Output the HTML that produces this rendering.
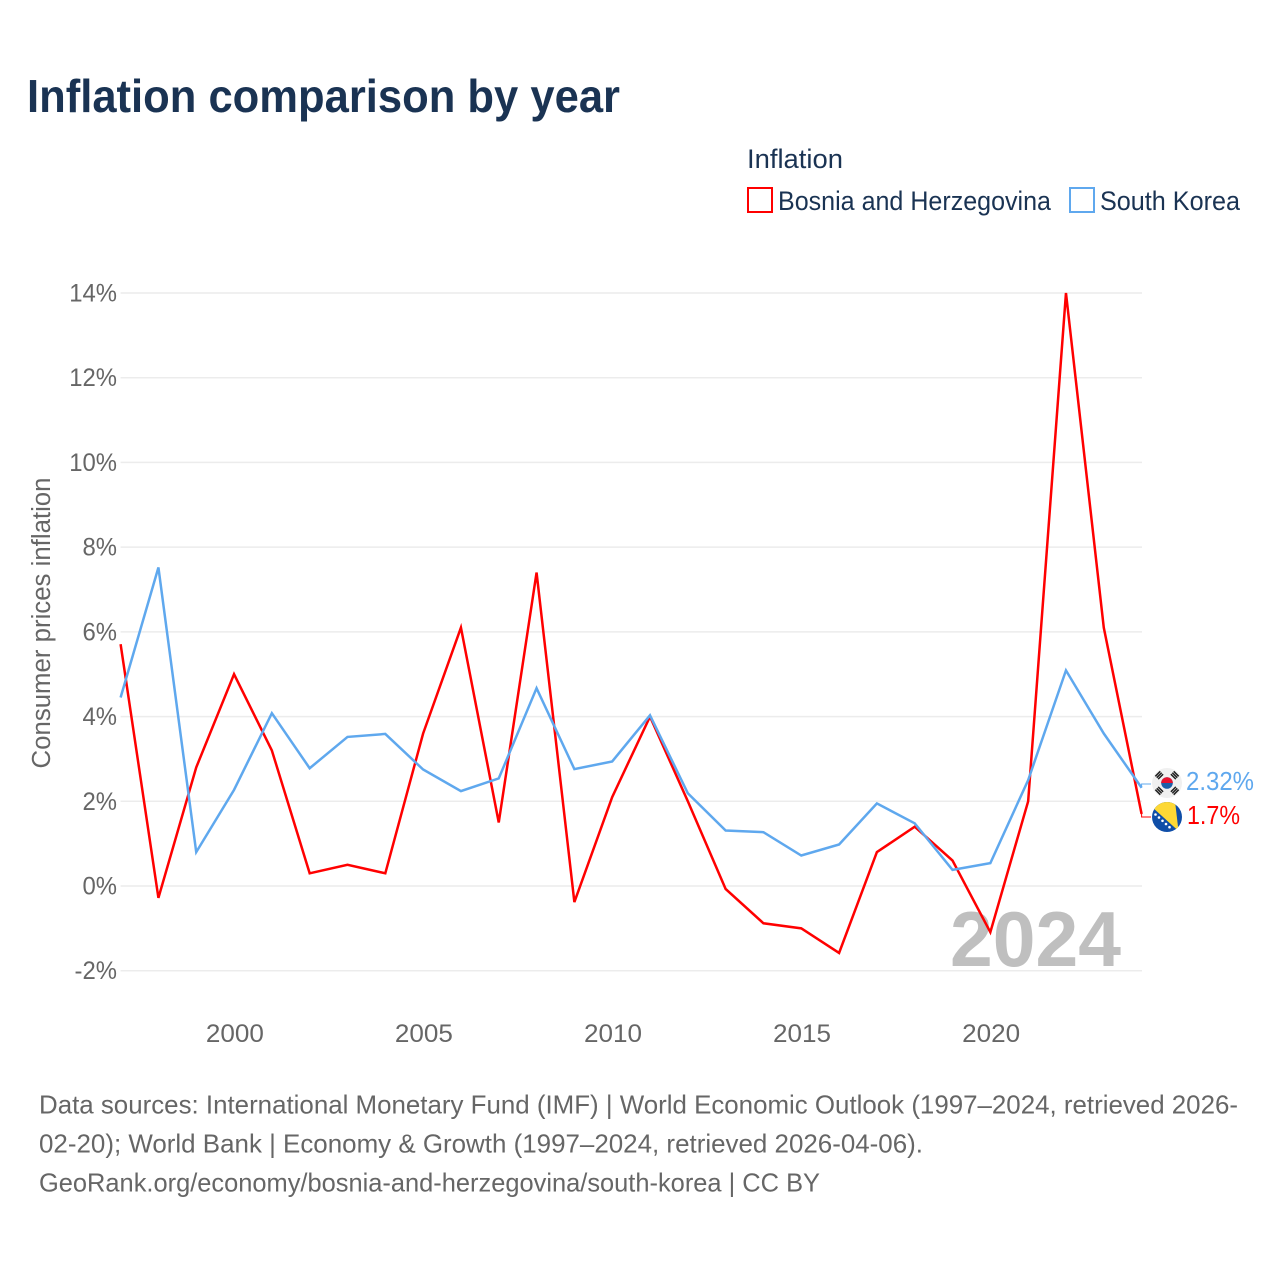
<!DOCTYPE html>
<html lang="en">
<head>
<meta charset="utf-8">
<title>Inflation comparison by year</title>
<style>
html,body{margin:0;padding:0;background:#fff;width:1280px;height:1280px;overflow:hidden}
svg{display:block}
text{font-family:"Liberation Sans",sans-serif}
</style>
</head>
<body>
<svg id="chart" xmlns="http://www.w3.org/2000/svg" width="1280" height="1280" viewBox="0 0 1280 1280">
  <defs>
    <clipPath id="flag-clip-kr"><circle cx="1167" cy="783" r="15"/></clipPath>
    <clipPath id="flag-clip-ba"><circle cx="1167" cy="817" r="15"/></clipPath>
  </defs>
  <rect width="1280" height="1280" fill="#fff"/>
  <text x="27" y="112" font-size="46" font-weight="700" fill="#1a3353" textLength="593" lengthAdjust="spacingAndGlyphs">Inflation comparison by year</text>

  <g>
    <text x="747" y="168" font-size="27" fill="#1a3353" textLength="96" lengthAdjust="spacingAndGlyphs">Inflation</text>
    <g>
      <rect x="748" y="188" width="24" height="24" fill="#fff" stroke="#ff0000" stroke-width="2"/>
      <text x="778" y="210" font-size="27" fill="#1a3353" textLength="273" lengthAdjust="spacingAndGlyphs">Bosnia and Herzegovina</text>
    </g>
    <g>
      <rect x="1070" y="188" width="24" height="24" fill="#fff" stroke="#5fa8ee" stroke-width="2"/>
      <text x="1100" y="210" font-size="27" fill="#1a3353" textLength="140" lengthAdjust="spacingAndGlyphs">South Korea</text>
    </g>
  </g>

  <g id="grid"></g>
  <g id="y-ticks"></g>
  <g id="x-ticks"></g>
  <text transform="translate(50 623) rotate(-90)" text-anchor="middle" font-size="25.500" fill="#666" textLength="291" lengthAdjust="spacingAndGlyphs">Consumer prices inflation</text>
  <text x="950" y="966" font-size="78" font-weight="700" fill="#bfbfbf" textLength="171" lengthAdjust="spacingAndGlyphs">2024</text>
  <g id="series"></g>

  <g clip-path="url(#flag-clip-kr)">
    <rect x="1152" y="768" width="30" height="30" fill="#f0f0f0"/>
    <circle cx="1167" cy="783" r="5.800" fill="#1c5fa8"/>
    <path d="M1161.200 783a5.800 5.800 0 0 1 11.600 0z" fill="#e8112d"/>
    <g stroke="#222" stroke-width="1.500" fill="none">
      <path transform="rotate(-45 1167 783)" d="M1163.500 774h7M1163.500 772h7M1163.500 770h7"/>
      <path transform="rotate(45 1167 783)" d="M1163.500 774h7M1163.500 772h7M1163.500 770h7"/>
      <path transform="rotate(135 1167 783)" d="M1163.500 774h7M1163.500 772h7M1163.500 770h7"/>
      <path transform="rotate(225 1167 783)" d="M1163.500 774h7M1163.500 772h7M1163.500 770h7"/>
    </g>
  </g>
  <g clip-path="url(#flag-clip-ba)">
    <rect x="1152" y="802" width="30" height="30" fill="#0f4ea8"/>
    <path d="M1152 807L1156 801H1175L1178.500 831z" fill="#fdd835"/>
    <g fill="#fff">
      <circle cx="1155.500" cy="814.500" r="1.300"/><circle cx="1159" cy="817.500" r="1.300"/><circle cx="1162.500" cy="820.800" r="1.300"/><circle cx="1166" cy="824" r="1.300"/><circle cx="1169.500" cy="827.200" r="1.300"/>
    </g>
  </g>
  <g id="end-labels"></g>

  <g font-size="26" fill="#666">
    <text x="39" y="1113.500" textLength="1199" lengthAdjust="spacingAndGlyphs">Data sources: International Monetary Fund (IMF) | World Economic Outlook (1997–2024, retrieved 2026-</text>
    <text x="39" y="1152.500" textLength="884" lengthAdjust="spacingAndGlyphs">02-20); World Bank | Economy &amp; Growth (1997–2024, retrieved 2026-04-06).</text>
    <text x="39" y="1191.500" textLength="781" lengthAdjust="spacingAndGlyphs">GeoRank.org/economy/bosnia-and-herzegovina/south-korea | CC BY</text>
  </g>
</svg>
<script>
const years = [1997,1998,1999,2000,2001,2002,2003,2004,2005,2006,2007,2008,2009,2010,2011,2012,2013,2014,2015,2016,2017,2018,2019,2020,2021,2022,2023,2024];
const bosniaValues = [5.71,-0.28,2.8,5.0,3.2,0.3,0.5,0.3,3.6,6.1,1.5,7.4,-0.38,2.1,4.0,2.0,-0.07,-0.88,-1.0,-1.58,0.8,1.4,0.6,-1.09,2.0,14.0,6.1,1.7];
const koreaValues = [4.45,7.52,0.8,2.27,4.08,2.78,3.52,3.59,2.75,2.24,2.54,4.67,2.76,2.94,4.03,2.19,1.31,1.27,0.72,0.98,1.95,1.48,0.38,0.54,2.5,5.09,3.6,2.32];
const yTickValues = [-2,0,2,4,6,8,10,12,14];
const yTickLabels = ['-2%','0%','2%','4%','6%','8%','10%','12%','14%'];
const xTickValues = [2000,2005,2010,2015,2020];
const xTickLabels = ['2000','2005','2010','2015','2020'];
const bosniaEndLabel = '1.7%';
const koreaEndLabel = '2.32%';

const NS = 'http://www.w3.org/2000/svg';
const plotLeft = 120.6, plotRight = 1141.6, yZero = 886, yFourteen = 293;
function xScale(year) { return plotLeft + (year - 1997) * (plotRight - plotLeft) / 27; }
function yScale(value) { return yZero - value * (yZero - yFourteen) / 14; }
function make(tag, attrs) {
  const el = document.createElementNS(NS, tag);
  for (const k in attrs) el.setAttribute(k, attrs[k]);
  return el;
}
const grid = document.getElementById('grid');
const yTicks = document.getElementById('y-ticks');
const xTicks = document.getElementById('x-ticks');
const seriesGroup = document.getElementById('series');
const endLabels = document.getElementById('end-labels');

yTickValues.forEach(function (v, i) {
  const line = make('line', {x1: plotLeft, x2: plotRight + 0.4, y1: yScale(v), y2: yScale(v), stroke: '#ececec', 'stroke-width': 1.5});
  
  
  grid.appendChild(line);
  const label = make('text', {x: 117, y: yScale(v) + 8.500, 'text-anchor': 'end', 'font-size': 25, fill: '#666'});
  
  
  label.textContent = yTickLabels[i];
  yTicks.appendChild(label);
  label.setAttribute('textLength', label.getComputedTextLength() * 0.955);
  label.setAttribute('lengthAdjust', 'spacingAndGlyphs');
});
xTickValues.forEach(function (v, i) {
  const label = make('text', {x: xScale(v) + 0.8, y: 1042, 'text-anchor': 'middle', 'font-size': 25, fill: '#666', textLength: 58, lengthAdjust: 'spacingAndGlyphs'});
  
  
  label.textContent = xTickLabels[i];
  xTicks.appendChild(label);
});
function pointsFor(values) {
  return values.map(function (v, i) { return xScale(years[i]) + ',' + yScale(v); }).join(' ');
}
const bosniaLine = make('polyline', {points: pointsFor(bosniaValues), fill: 'none', stroke: '#ff0000', 'stroke-width': 2.5, 'stroke-linejoin': 'miter'});


seriesGroup.appendChild(bosniaLine);
const koreaLine = make('polyline', {points: pointsFor(koreaValues), fill: 'none', stroke: '#5fa8ee', 'stroke-width': 2.5, 'stroke-linejoin': 'miter'});


seriesGroup.appendChild(koreaLine);

const lastIndex = years.length - 1;
const bosniaConnector = make('polyline', {points: xScale(years[lastIndex]) + ',' + yScale(bosniaValues[lastIndex]) + ' ' + xScale(years[lastIndex]) + ',817 1151,817', fill: 'none', stroke: '#ff0000', 'stroke-width': 1});


endLabels.appendChild(bosniaConnector);
const koreaConnector = make('polyline', {points: xScale(years[lastIndex]) + ',' + yScale(koreaValues[lastIndex]) + ' ' + xScale(years[lastIndex]) + ',784 1151,784', fill: 'none', stroke: '#5fa8ee', 'stroke-width': 1});


endLabels.appendChild(koreaConnector);
const koreaText = make('text', {x: 1186, y: 790, 'font-size': 26, fill: '#5fa8ee', textLength: 68, lengthAdjust: 'spacingAndGlyphs'});


koreaText.textContent = koreaEndLabel;
endLabels.appendChild(koreaText);
const bosniaText = make('text', {x: 1187, y: 824, 'font-size': 26, fill: '#ff0000', textLength: 53, lengthAdjust: 'spacingAndGlyphs'});


bosniaText.textContent = bosniaEndLabel;
endLabels.appendChild(bosniaText);
</script>
</body>
</html>
